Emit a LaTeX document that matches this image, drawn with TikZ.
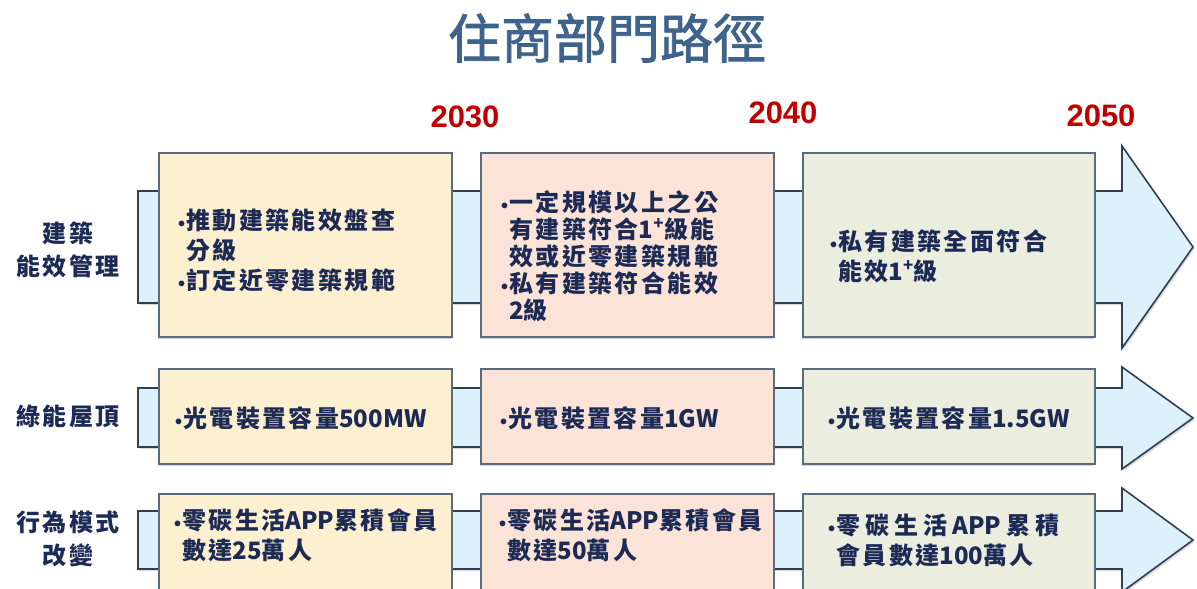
\documentclass[tikz,border=0pt]{standalone}
\usepackage{fontspec}
\setmainfont{Liberation Sans}
\newfontfamily\cjk{Noto Sans CJK TC}[LetterSpace=10]
\newfontfamily\lat{Noto Sans CJK TC}
\newfontfamily\bulfont{Liberation Sans}
\newfontfamily\cjktitle{Noto Sans CJK TC}[FakeBold=1.5]
\newcommand{\bul}{{\bulfont\fontsize{20}{20}\selectfont\raisebox{-1pt}{•}\hspace{1pt}}}
\newcommand{\ind}{\hphantom{\bul}}
\newcommand{\la}[1]{{\lat #1}}
\usetikzlibrary{shadows}
\definecolor{titleblue}{RGB}{62,100,140}
\definecolor{yearred}{RGB}{192,0,0}
\definecolor{navy}{RGB}{28,42,85}
\definecolor{arrowfill}{RGB}{221,241,250}
\definecolor{arrowline}{RGB}{46,63,87}
\definecolor{boxline}{RGB}{90,107,126}
\definecolor{fillA}{RGB}{253,240,208}
\definecolor{fillB}{RGB}{251,228,215}
\definecolor{fillC}{RGB}{235,238,223}
\tikzset{
  arrowshape/.style={fill=arrowfill, draw=arrowline, line width=1.6pt, line join=miter,
    drop shadow={shadow xshift=1.5pt, shadow yshift=-2pt, opacity=0.3}},
  boxshape/.style={draw=boxline, line width=1.2pt,
    drop shadow={shadow xshift=-1.5pt, shadow yshift=-2pt, opacity=0.3}},
  boxtext/.style={anchor=west, align=left, text=navy, inner sep=0pt,
    font=\cjk\bfseries\fontsize{24}{30}\selectfont},
  rowlabel/.style={align=center, text=navy, inner sep=0pt,
    font=\cjk\bfseries\fontsize{24}{33}\selectfont},
  year/.style={text=yearred, inner sep=0pt, font=\bfseries\fontsize{31}{31}\selectfont}
}
\begin{document}
\begin{tikzpicture}[x=1pt, y=-1pt]
\useasboundingbox (0,0) rectangle (1197,589);
\clip (0,0) rectangle (1197,589);
\fill[white] (0,0) rectangle (1197,589);
% title and years
\node[text=titleblue, inner sep=0pt, font=\cjktitle\fontsize{53}{53}\selectfont] (title) at (607,38) {住商部門路徑};
\node[year] (y2030) at (465,117) {2030};
\node[year] (y2040) at (783,113) {2040};
\node[year] (y2050) at (1101,116) {2050};
% arrows
\path[arrowshape] (138,191) -- (1122,191) -- (1122,146) -- (1193,247) -- (1122,348) -- (1122,303) -- (138,303) -- cycle;
\path[arrowshape] (138,388) -- (1122,388) -- (1122,367) -- (1193,418) -- (1122,469) -- (1122,447) -- (138,447) -- cycle;
\path[arrowshape] (138,511) -- (1122,511) -- (1122,488) -- (1193,540) -- (1122,592) -- (1122,569) -- (138,569) -- cycle;
% boxes
\path[boxshape, fill=fillA] (159,153) rectangle (452,337);
\path[boxshape, fill=fillB] (481,153) rectangle (774,337);
\path[boxshape, fill=fillC] (803,153) rectangle (1095,337);
\path[boxshape, fill=fillA] (159,369) rectangle (452,464);
\path[boxshape, fill=fillB] (481,369) rectangle (774,464);
\path[boxshape, fill=fillC] (803,369) rectangle (1095,464);
\path[boxshape, fill=fillA] (159,494) rectangle (452,600);
\path[boxshape, fill=fillB] (481,494) rectangle (774,600);
\path[boxshape, fill=fillC] (803,494) rectangle (1095,600);
% row labels
\node[rowlabel] (lab1) at (68,250) {建築\\能效管理};
\node[rowlabel] (lab2) at (68,416) {綠能屋頂};
\node[rowlabel] (lab3) at (68,539) {行為模式\\改變};
% row 1 texts
\node[boxtext] (t11) at (178,250) {\bul 推動建築能效盤查\\\ind 分級\\\bul 訂定近零建築規範};
\node[boxtext, font=\cjk\bfseries\fontsize{24}{27}\selectfont] (t12) at (501,256) {\bul 一定規模以上之公\\\ind 有建築符合\la{1}\textsuperscript{+}級能\\\ind 效或近零建築規範\\\bul 私有建築符合能效\\\ind \la{2}級};
\node[boxtext] (t13) at (830,256) {\bul 私有建築全面符合\\\ind 能效\la{1}\textsuperscript{+}級};
% row 2 texts
\node[boxtext] (t21) at (175,418) {\bul 光電裝置容量\la{500MW}};
\node[boxtext] (t22) at (500,418) {\bul 光電裝置容量\la{1GW}};
\node[boxtext] (t23) at (828,418) {\bul 光電裝置容量\la{1.5GW}};
% row 3 texts
\node[boxtext] (t31) at (174,535) {\bul 零碳生活\la{APP}累積會員\\\ind 數達\la{25}萬人};
\node[boxtext] (t32) at (499,535) {\bul 零碳生活\la{APP}累積會員\\\ind 數達\la{50}萬人};
\node[boxtext] (t33) at (828,540) {\bul 零\hspace{5pt}碳\hspace{5pt}生\hspace{5pt}活\hspace{5pt}\la{APP}\hspace{5pt}累\hspace{5pt}積\\\ind 會員數達\la{100}萬人};
\end{tikzpicture}
\end{document}
